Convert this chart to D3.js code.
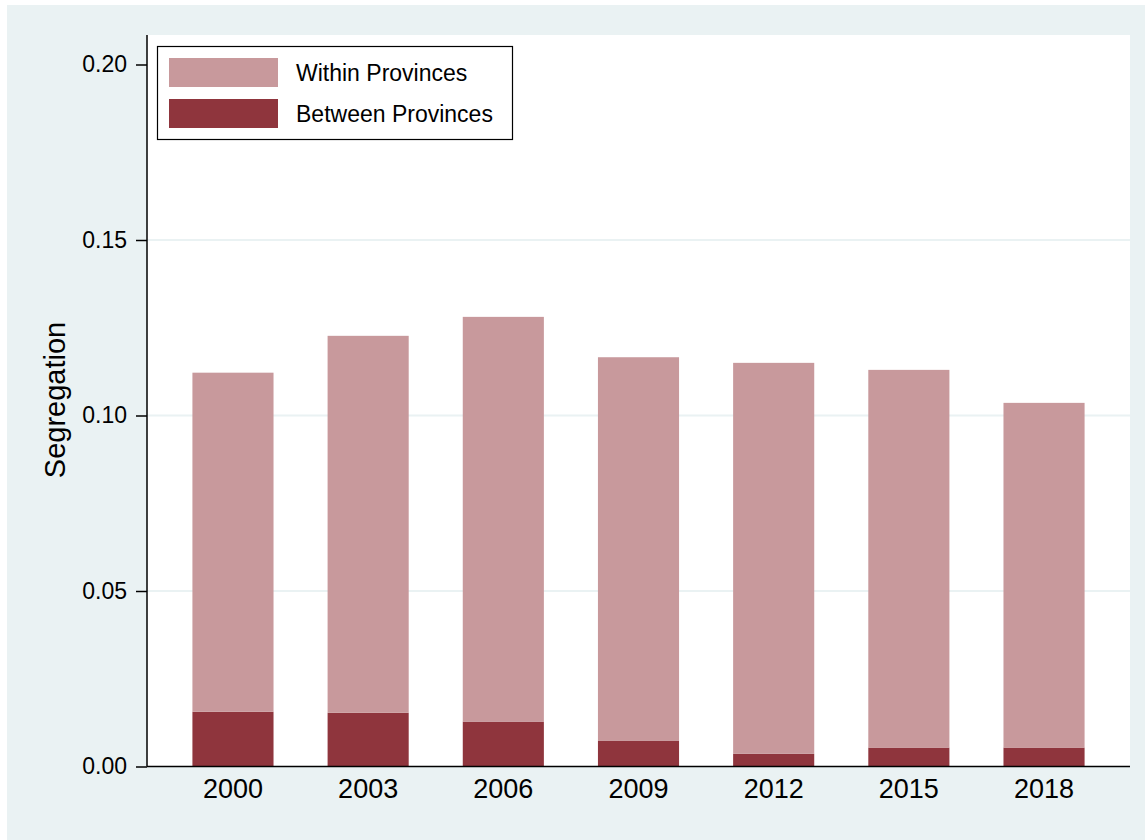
<!DOCTYPE html>
<html lang="en">
<head>
    <meta charset="UTF-8">
    <script src="https://d3js.org/d3.v7.min.js"></script>
    <style>
        body { margin: 0; background: #fff; font-family: "Liberation Sans", Arial, sans-serif; }
        .tick text { font-family: "Liberation Sans", Arial, sans-serif; fill: #000; }
    </style>
</head>
<body>
    <div id="chart"></div>

    <script>
        // values
        const years = ["2000", "2003", "2006", "2009", "2012", "2015", "2018"];
        const between = [0.0156, 0.0153, 0.0128, 0.0074, 0.0036, 0.0054, 0.0054];
        const within  = [0.0966, 0.1074, 0.1153, 0.1092, 0.1114, 0.1076, 0.0982];
        const yTicks = [0, 0.05, 0.10, 0.15, 0.20];
        const seriesNames = ["Within Provinces", "Between Provinces"];
        const colors = { within: "#c8999c", between: "#8f353d" };

        const W = 1145, H = 840;
        const plot = { left: 147, right: 1130, top: 35, bottom: 766.5 };

        const svg = d3.select("#chart").append("svg")
            .attr("width", W)
            .attr("height", H);

        // outer graph region
        svg.append("rect")
            .attr("x", 7).attr("y", 5)
            .attr("width", W - 7).attr("height", H - 5)
            .attr("fill", "#eaf2f3");

        // plot region
        svg.append("rect")
            .attr("x", plot.left).attr("y", plot.top)
            .attr("width", plot.right - plot.left)
            .attr("height", plot.bottom - plot.top)
            .attr("fill", "#fff");

        const x = d3.scaleBand()
            .domain(years)
            .range([plot.left, plot.right])
            .paddingInner(0.4)
            .paddingOuter(0.336);

        const y = d3.scaleLinear()
            .domain([0, 0.20])
            .range([plot.bottom, plot.bottom - 702]);

        // grid lines at interior ticks
        svg.append("g")
            .selectAll("line")
            .data(yTicks.filter(d => d > 0 && d < 0.2))
            .enter().append("line")
            .attr("x1", plot.left).attr("x2", plot.right)
            .attr("y1", d => y(d)).attr("y2", d => y(d))
            .attr("stroke", "#eaf2f3")
            .attr("stroke-width", 2);

        const data = years.map((yr, i) => ({ year: yr, between: between[i], within: within[i] }));
        const stacked = d3.stack().keys(["between", "within"])(data);

        svg.append("g")
            .selectAll("g")
            .data(stacked)
            .enter().append("g")
            .attr("fill", d => colors[d.key])
            .selectAll("rect")
            .data(d => d)
            .enter().append("rect")
            .attr("x", d => x(d.data.year))
            .attr("y", d => y(d[1]))
            .attr("width", x.bandwidth())
            .attr("height", d => y(d[0]) - y(d[1]));

        // y axis
        const yAxis = svg.append("g")
            .attr("transform", `translate(${plot.left},0)`)
            .call(d3.axisLeft(y)
                .tickValues(yTicks)
                .tickFormat(d3.format(".2f"))
                .tickSize(11)
                .tickPadding(9));
        yAxis.select(".domain").remove();
        yAxis.append("line")
            .attr("x1", 0).attr("x2", 0)
            .attr("y1", plot.top).attr("y2", plot.bottom)
            .attr("stroke", "#000").attr("stroke-width", 1.5);
        yAxis.selectAll(".tick line").attr("stroke", "#000").attr("stroke-width", 1.5);
        yAxis.selectAll(".tick text").style("font-size", "23px");

        // x axis
        const xAxis = svg.append("g")
            .attr("transform", `translate(0,${plot.bottom})`)
            .call(d3.axisBottom(x).tickSize(0).tickPadding(12));
        xAxis.select(".domain").remove();
        xAxis.append("line")
            .attr("x1", plot.left).attr("x2", plot.right)
            .attr("stroke", "#000").attr("stroke-width", 1.5);
        xAxis.selectAll(".tick text").style("font-size", "27px");

        // axis title
        svg.append("text")
            .attr("transform", `translate(65,400) rotate(-90)`)
            .attr("text-anchor", "middle")
            .style("font-size", "29px")
            .text("Segregation");

        // legend
        const legend = svg.append("g");
        legend.append("rect")
            .attr("x", 157.5).attr("y", 46.5)
            .attr("width", 355).attr("height", 93)
            .attr("fill", "#fff")
            .attr("stroke", "#000")
            .attr("stroke-width", 1.2);

        const legendKeys = ["within", "between"];
        legendKeys.forEach((k, i) => {
            legend.append("rect")
                .attr("x", 169).attr("y", 58 + i * 41)
                .attr("width", 109).attr("height", 29)
                .attr("fill", colors[k]);
            legend.append("text")
                .attr("x", 296).attr("y", 81 + i * 41)
                .style("font-size", "23px")
                .text(seriesNames[i]);
        });
    </script>
</body>
</html>
